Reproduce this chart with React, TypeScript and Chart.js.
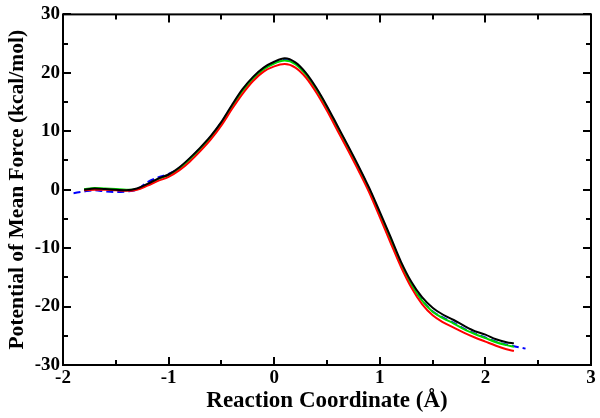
import React, { useEffect, useRef } from "react";
import { Chart, registerables } from "chart.js";

Chart.register(...registerables);

const xs = [-1.9,-1.8,-1.7,-1.6,-1.5,-1.4,-1.3,-1.2,-1.1,-1.0,-0.9,-0.8,-0.7,-0.6,-0.5,-0.4,-0.3,-0.2,-0.1,0.0,0.1,0.2,0.3,0.4,0.5,0.6,0.7,0.8,0.9,1.0,1.1,1.2,1.3,1.4,1.5,1.6,1.7,1.8,1.9,2.0,2.1,2.2,2.27,2.38];

const blackY = [null,0.0,0.2,0.1,0.0,-0.1,0.2,1.0,1.9,2.6,3.8,5.4,7.2,9.2,11.6,14.5,17.2,19.3,20.9,21.9,22.5,21.8,20.0,17.4,14.3,10.9,7.5,4.0,0.3,-3.8,-8.0,-12.3,-15.8,-18.4,-20.2,-21.4,-22.3,-23.3,-24.2,-24.8,-25.6,-26.1,-26.3,null];
const redY = [null,-0.1,0.0,0.0,-0.1,-0.2,0.0,0.7,1.5,2.2,3.3,4.8,6.6,8.6,11.0,13.8,16.4,18.6,20.2,21.1,21.5,20.9,19.2,16.6,13.5,10.1,6.7,3.2,-0.5,-4.7,-9.0,-13.2,-16.8,-19.6,-21.5,-22.7,-23.6,-24.5,-25.3,-26.0,-26.7,-27.3,-27.6,null];
const greenY = [null,0.1,0.3,0.2,0.1,0.0,0.1,0.9,1.8,2.5,3.6,5.2,7.0,9.0,11.4,14.2,16.9,19.0,20.6,21.6,22.1,21.5,19.7,17.1,14.0,10.6,7.2,3.7,0.0,-4.2,-8.4,-12.7,-16.3,-19.0,-20.9,-22.0,-22.9,-23.9,-24.7,-25.4,-26.1,-26.6,-26.9,null];
const blueY = [-0.6,-0.3,-0.1,-0.3,-0.4,-0.3,0.0,1.3,2.1,2.7,3.7,5.3,7.1,9.1,11.5,14.3,17.0,19.1,20.7,21.7,22.2,21.6,19.8,17.2,14.1,10.7,7.3,3.8,0.1,-4.1,-8.3,-12.6,-16.2,-18.9,-20.8,-21.9,-22.8,-23.8,-24.6,-25.3,-26.0,-26.5,-26.8,-27.2];

const xMajorTicks = [-2, -1, 0, 1, 2, 3];
const xMinorTicks = [-1.5, -0.5, 0.5, 1.5, 2.5];
const yMajorTicks = [-30, -20, -10, 0, 10, 20, 30];
const yMinorTicks = [-25, -15, -5, 5, 15, 25];

const FONT = "'Times New Roman', 'Liberation Serif', serif";

const toPoints = (ys: (number | null)[]) =>
  xs.map((x, i) => (ys[i] === null ? null : { x, y: ys[i] as number })).filter((p) => p !== null);

const framePlugin = {
  id: "frame",
  afterDraw(chart: any) {
    const { ctx, chartArea } = chart;
    const { left, right, top, bottom } = chartArea;
    const xs_ = chart.scales.x;
    const ys_ = chart.scales.y;
    ctx.save();
    ctx.strokeStyle = "#000";
    ctx.lineWidth = 2;
    ctx.strokeRect(left, top, right - left, bottom - top);
    const tick = (len: number, vals: number[], horiz: boolean) => {
      vals.forEach((v) => {
        ctx.beginPath();
        if (horiz) {
          const p = Math.round(xs_.getPixelForValue(v));
          ctx.moveTo(p, bottom); ctx.lineTo(p, bottom - len);
          ctx.moveTo(p, top); ctx.lineTo(p, top + len);
        } else {
          const p = Math.round(ys_.getPixelForValue(v));
          ctx.moveTo(left, p); ctx.lineTo(left + len, p);
          ctx.moveTo(right, p); ctx.lineTo(right - len, p);
        }
        ctx.stroke();
      });
    };
    tick(8, xMajorTicks, true);
    tick(5, xMinorTicks, true);
    tick(8, yMajorTicks, false);
    tick(5, yMinorTicks, false);
    ctx.restore();
  },
};

export default function App() {
  const ref = useRef<HTMLCanvasElement>(null);
  useEffect(() => {
    if (!ref.current) return;
    const common = { fill: false, pointRadius: 0, borderWidth: 2, cubicInterpolationMode: "monotone" as const };
    const chart = new Chart(ref.current, {
      type: "line",
      data: {
        datasets: [
          { ...common, label: "black", data: toPoints(blackY) as any, borderColor: "#000000" },
          { ...common, label: "red", data: toPoints(redY) as any, borderColor: "#ff0000" },
          { ...common, label: "green", data: toPoints(greenY) as any, borderColor: "#00d800" },
          { ...common, label: "blue", data: toPoints(blueY) as any, borderColor: "#0000ff", borderDash: [7, 4] },
        ],
      },
      options: {
        animation: false,
        responsive: false,
        maintainAspectRatio: false,
        layout: { padding: { top: 12, right: 9, left: 0, bottom: 0 } },
        plugins: { legend: { display: false }, tooltip: { enabled: false } },
        scales: {
          x: {
            type: "linear",
            min: -2,
            max: 3,
            grid: { display: false, drawTicks: false },
            border: { display: false },
            afterFit: (s: any) => { s.height = 53; },
            afterBuildTicks: (s: any) => { s.ticks = xMajorTicks.map((v) => ({ value: v })); },
            ticks: {
              padding: 2,
              color: "#000",
              font: { family: FONT, size: 19, weight: "bold" },
              maxRotation: 0,
              autoSkip: false,
              callback: (v: any) => String(v),
            },
            title: {
              display: true,
              text: "Reaction Coordinate (Å)",
              color: "#000",
              font: { family: FONT, size: 23, weight: "bold" },
              padding: { top: 0, bottom: 3 },
            },
          },
          y: {
            type: "linear",
            min: -30,
            max: 30,
            grid: { display: false, drawTicks: false },
            border: { display: false },
            afterFit: (s: any) => { s.width = 63; },
            afterBuildTicks: (s: any) => { s.ticks = yMajorTicks.map((v) => ({ value: v })); },
            ticks: {
              padding: 3,
              color: "#000",
              font: { family: FONT, size: 19, weight: "bold" },
              autoSkip: false,
              callback: (v: any) => String(v),
            },
            title: {
              display: true,
              text: "Potential of Mean Force (kcal/mol)",
              color: "#000",
              font: { family: FONT, size: 21.5, weight: "bold" },
              padding: { top: 5, bottom: 0 },
            },
          },
        },
      },
      plugins: [framePlugin],
    });
    return () => chart.destroy();
  }, []);
  return (
    <div style={{ position: "fixed", left: 0, top: 0, width: 600, height: 418, background: "#fff" }}>
      <canvas ref={ref} width={600} height={418} style={{ width: 600, height: 418, display: "block" }} />
    </div>
  );
}
